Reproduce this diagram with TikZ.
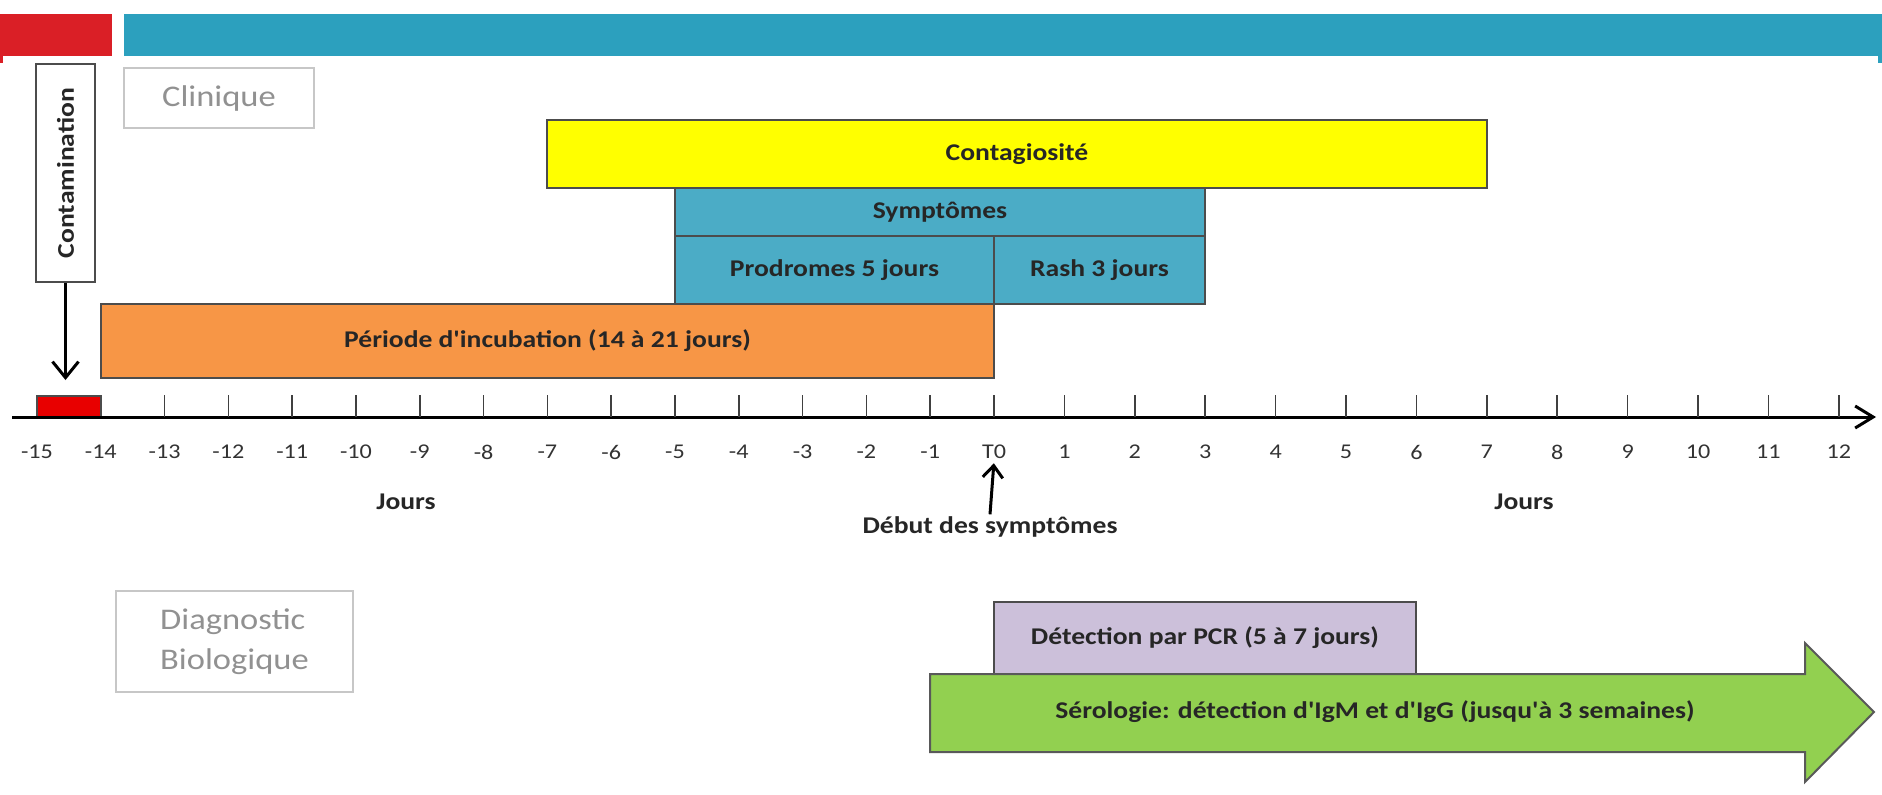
\documentclass[tikz,border=0pt]{standalone}
\usepackage{fontspec}
\setmainfont{Carlito}[FakeStretch=1.15, Ligatures=TeXOff]
\usetikzlibrary{arrows.meta}

\definecolor{topred}{RGB}{218,31,38}
\definecolor{topblue}{RGB}{44,160,190}
\definecolor{contagcol}{RGB}{255,255,0}
\definecolor{sympcol}{RGB}{75,172,198}
\definecolor{incubcol}{RGB}{247,150,70}
\definecolor{contamcol}{RGB}{232,0,0}
\definecolor{pcrcol}{RGB}{204,192,218}
\definecolor{serocol}{RGB}{146,208,80}
\definecolor{titlegrey}{RGB}{145,145,145}

\tikzset{
  bar/.style={draw=black!70, line width=1pt, inner sep=0pt,
    font=\fontsize{12}{14}\selectfont\bfseries, text=black!85},
  titlebox/.style={draw=black!22, line width=0.9pt, text=titlegrey,
    font=\fontsize{15}{20}\selectfont},
  ticklabel/.style={font=\fontsize{10.5}{12}\selectfont, text=black!80, inner sep=1pt},
  daylabel/.style={font=\fontsize{12}{14}\selectfont\bfseries, text=black!85, inner sep=1pt},
  tick/.style={draw=black!75, line width=0.8pt},
  bigarrow/.style={draw=black, line width=1.5pt, -{Straight Barb[length=8pt,width=13pt]}},
}

\begin{document}
\begin{tikzpicture}[x=0.5pt,y=-0.5pt]
  \useasboundingbox (0,0) rectangle (1882,794);

  % bandeau du haut
  \fill[topred] (0,14) rectangle (112,56);
  \fill[topred] (0,56) rectangle (3,63);
  \fill[topblue] (124,14) rectangle (1882,56);
  \fill[topblue] (1878,56) rectangle (1882,63);

  % titres
  \node[titlebox, minimum width=95pt, minimum height=30pt] (clinique) at (219,98) {Clinique};
  \node[titlebox, minimum width=118.5pt, minimum height=50.5pt, align=left] (diag) at (234.5,641.5)
    {Diagnostic\\Biologique};

  % barres cliniques
  \node[bar, fill=contagcol, minimum width=470pt, minimum height=34pt] (contag) at (1017,154) {Contagiosité};
  \node[bar, fill=sympcol, minimum width=265pt, minimum height=24pt] (symp) at (940,212) {Symptômes};
  \node[bar, fill=sympcol, minimum width=159.5pt, minimum height=34pt] (prod) at (834.5,270) {Prodromes 5 jours};
  \node[bar, fill=sympcol, minimum width=105.5pt, minimum height=34pt] (rash) at (1099.5,270) {Rash 3 jours};
  \node[bar, fill=incubcol, minimum width=446.5pt, minimum height=37pt] (incub) at (547.5,341) {Période d'incubation (14 à 21 jours)};
  \node[bar, fill=contamcol, minimum width=32pt, minimum height=10.5pt] (contambox) at (69,406.5) {};

  % contamination
  \node[bar, fill=white, rotate=90, minimum width=109pt, minimum height=29.5pt] (contam) at (65.5,173) {Contamination};
  \coordinate (hit) at (65.5,380);
  \draw[bigarrow] (contam.west) -- (hit);

  % axe des jours
  \coordinate (axstart) at (12,417);
  \coordinate (axend) at (1876,417);
  \draw[line width=1.5pt, -{Straight Barb[length=9pt,width=11pt]}] (axstart) -- (axend);
  \foreach \d in {-13,...,-1}
    \draw[tick] ({994+63.8*\d},395) -- ++(0,22);
  \foreach \d in {0,...,12}
    \draw[tick] ({994+70.4*\d},395) -- ++(0,22);
  \foreach \d in {-15,...,-1}
    \node[ticklabel] (lbl\d) at ({994+63.8*\d},452) {\d};
  \node[ticklabel] (lbl0) at (994,452) {T0};
  \foreach \d in {1,...,12}
    \node[ticklabel] (lbl\d) at ({994+70.4*\d},452) {\d};

  \node[daylabel] (joursg) at (406,502) {Jours};
  \node[daylabel] (joursd) at (1524,502) {Jours};
  \node[daylabel] (debut) at (990,527) {Début des symptômes};
  \draw[bigarrow, line width=1.5pt, -{Straight Barb[length=6pt,width=10pt]}, shorten >=1pt] (debut.north) -- (lbl0.south);

  % diagnostic biologique
  \node[bar, fill=pcrcol, minimum width=211pt, minimum height=36pt] (pcr) at (1205,638) {Détection par PCR (5 à 7 jours)};
  \draw[draw=black!65, line width=1pt, fill=serocol]
    (930,674) -- (1805,674) -- (1805,643) -- (1874,712) -- (1805,782) -- (1805,752) -- (930,752) -- cycle;
  \node[daylabel] (sero) at (1375,712) {Sérologie: détection d'IgM et d'IgG (jusqu'à 3 semaines)};
\end{tikzpicture}
\end{document}
